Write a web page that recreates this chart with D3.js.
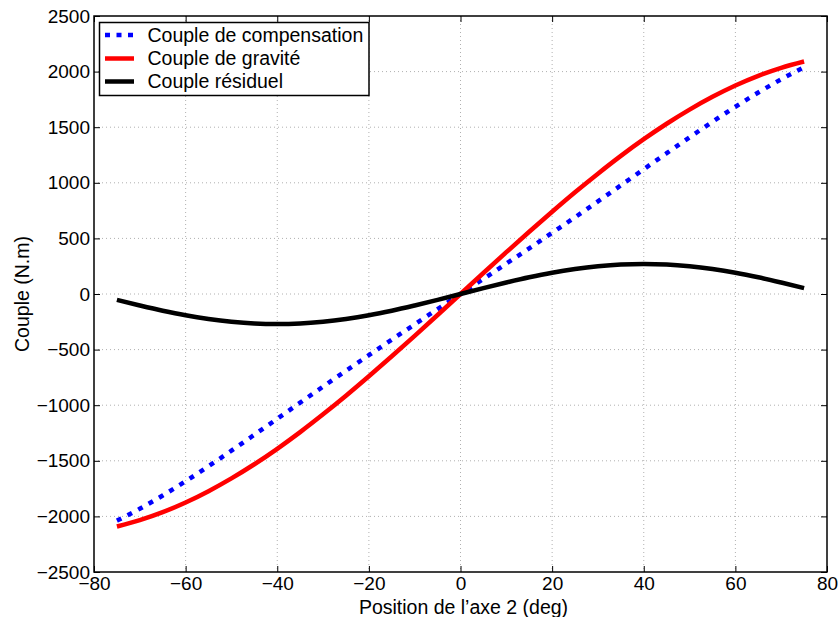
<!DOCTYPE html>
<html>
<head>
<meta charset="utf-8">
<script src="https://cdn.jsdelivr.net/npm/d3@7"></script>
<style>
  html, body { margin: 0; padding: 0; background: #fff; }
  svg { display: block; }
  text { font-family: "Liberation Sans", Arial, Helvetica, sans-serif; fill: #000; }
</style>
</head>
<body>
<svg id="chart" width="840" height="617"></svg>
<script>
// ---- Data ----
const positions = [-75,-70,-65,-60,-55,-50,-45,-40,-35,-30,-25,-20,-15,-10,-5,0,5,10,15,20,25,30,35,40,45,50,55,60,65,70,75];
const compensation = [-2038,-1931,-1812,-1684,-1549,-1409,-1266,-1122,-977,-833,-690,-550,-410,-273,-136,0,136,273,410,550,690,833,977,1122,1266,1409,1549,1684,1812,1931,2038];
const gravity = [-2091,-2034,-1962,-1875,-1773,-1658,-1531,-1392,-1242,-1082,-915,-740,-560,-376,-189,0,189,376,560,740,915,1082,1242,1392,1531,1658,1773,1875,1962,2034,2091];
const residual = [-53,-103,-150,-191,-224,-249,-265,-270,-265,-249,-224,-191,-150,-103,-53,0,53,103,150,191,224,249,265,270,265,249,224,191,150,103,53];
const xTicks = [-80,-60,-40,-20,0,20,40,60,80];
const yTicks = [-2500,-2000,-1500,-1000,-500,0,500,1000,1500,2000,2500];
const seriesNames = ["Couple de compensation", "Couple de gravité", "Couple résiduel"];
const xLabel = "Position de l\u2019axe 2 (deg)";
const yLabel = "Couple (N.m)";

// ---- Layout ----
const L = 94, R = 827, T = 16, B = 572;
const svg = d3.select("#chart");
const x = d3.scaleLinear().domain([-80, 80]).range([L, R]);
const y = d3.scaleLinear().domain([-2500, 2500]).range([B, T]);
const fs = 19;

// grid
const grid = svg.append("g");
grid.selectAll("line.gx").data(xTicks.slice(1, -1)).enter().append("line")
  .attr("x1", d => x(d)).attr("x2", d => x(d)).attr("y1", T).attr("y2", B)
  .attr("stroke", "#b0b0b0").attr("stroke-width", 1).attr("stroke-dasharray", "1,3");
grid.selectAll("line.gy").data(yTicks.slice(1, -1)).enter().append("line")
  .attr("y1", d => y(d)).attr("y2", d => y(d)).attr("x1", L).attr("x2", R)
  .attr("stroke", "#b0b0b0").attr("stroke-width", 1).attr("stroke-dasharray", "1,3");

// axes (ticks inward)
const axB = svg.append("g").attr("transform", `translate(0,${B})`)
  .call(d3.axisBottom(x).tickValues(xTicks).tickSizeInner(-6).tickSizeOuter(0).tickPadding(5).tickFormat(d => d < 0 ? "\u2212" + Math.abs(d) : d));
const axL = svg.append("g").attr("transform", `translate(${L},0)`)
  .call(d3.axisLeft(y).tickValues(yTicks).tickSizeInner(-6).tickSizeOuter(0).tickPadding(4).tickFormat(d => d < 0 ? "\u2212" + Math.abs(d) : d));
const axT = svg.append("g").attr("transform", `translate(0,${T})`)
  .call(d3.axisTop(x).tickValues(xTicks).tickSizeInner(-6).tickSizeOuter(0).tickFormat(""));
const axR = svg.append("g").attr("transform", `translate(${R},0)`)
  .call(d3.axisRight(y).tickValues(yTicks).tickSizeInner(-6).tickSizeOuter(0).tickFormat(""));
[axB, axL, axT, axR].forEach(a => {
  a.select(".domain").remove();
  a.selectAll(".tick line").attr("stroke", "#000").attr("stroke-width", 1);
  a.selectAll("text").style("font-size", fs + "px").attr("fill", "#000")
    .style("font-family", "'Liberation Sans', Arial, sans-serif");
});
axB.selectAll("text").attr("dy", "0.71em");

// box
svg.append("rect").attr("x", L).attr("y", T).attr("width", R - L).attr("height", B - T)
  .attr("fill", "none").attr("stroke", "#000").attr("stroke-width", 1.5);

// lines
const lineOf = vals => d3.line().curve(d3.curveMonotoneX)
  .x((d, i) => x(positions[i])).y(d => y(d))(vals);
const styles = [
  { vals: compensation, color: "#0000ff", width: 4.5, dash: "5,7" },
  { vals: gravity, color: "#ff0000", width: 4.5, dash: null },
  { vals: residual, color: "#000000", width: 4.5, dash: null }
];
const clip = svg.append("clipPath").attr("id", "clip").append("rect")
  .attr("x", L).attr("y", T).attr("width", R - L).attr("height", B - T);
styles.forEach(s => {
  svg.append("path").attr("d", lineOf(s.vals)).attr("fill", "none")
    .attr("stroke", s.color).attr("stroke-width", s.width)
    .attr("stroke-dasharray", s.dash).attr("clip-path", "url(#clip)");
});

// legend
const lg = svg.append("g");
lg.append("rect").attr("x", 99.5).attr("y", 22.5).attr("width", 269.5).attr("height", 73)
  .attr("fill", "#fff").attr("stroke", "#000").attr("stroke-width", 1.5);
const rowsY = [35, 58.5, 81.5];
styles.forEach((s, i) => {
  lg.append("line").attr("x1", 105).attr("x2", 134).attr("y1", rowsY[i]).attr("y2", rowsY[i])
    .attr("stroke", s.color).attr("stroke-width", 4.5).attr("stroke-dasharray", s.dash ? "5,6.5" : null);
  lg.append("text").attr("x", 147.5).attr("y", rowsY[i]).attr("dy", "0.35em")
    .style("font-size", "19.5px").text(seriesNames[i]);
});

// axis labels
svg.append("text").attr("x", (L + R) / 2 + 3).attr("y", 614).attr("text-anchor", "middle")
  .style("font-size", "19.5px").text(xLabel);
svg.append("text").attr("transform", `translate(29,${(T + B) / 2}) rotate(-90)`)
  .attr("text-anchor", "middle").style("font-size", "19.5px").text(yLabel);
</script>
</body>
</html>
